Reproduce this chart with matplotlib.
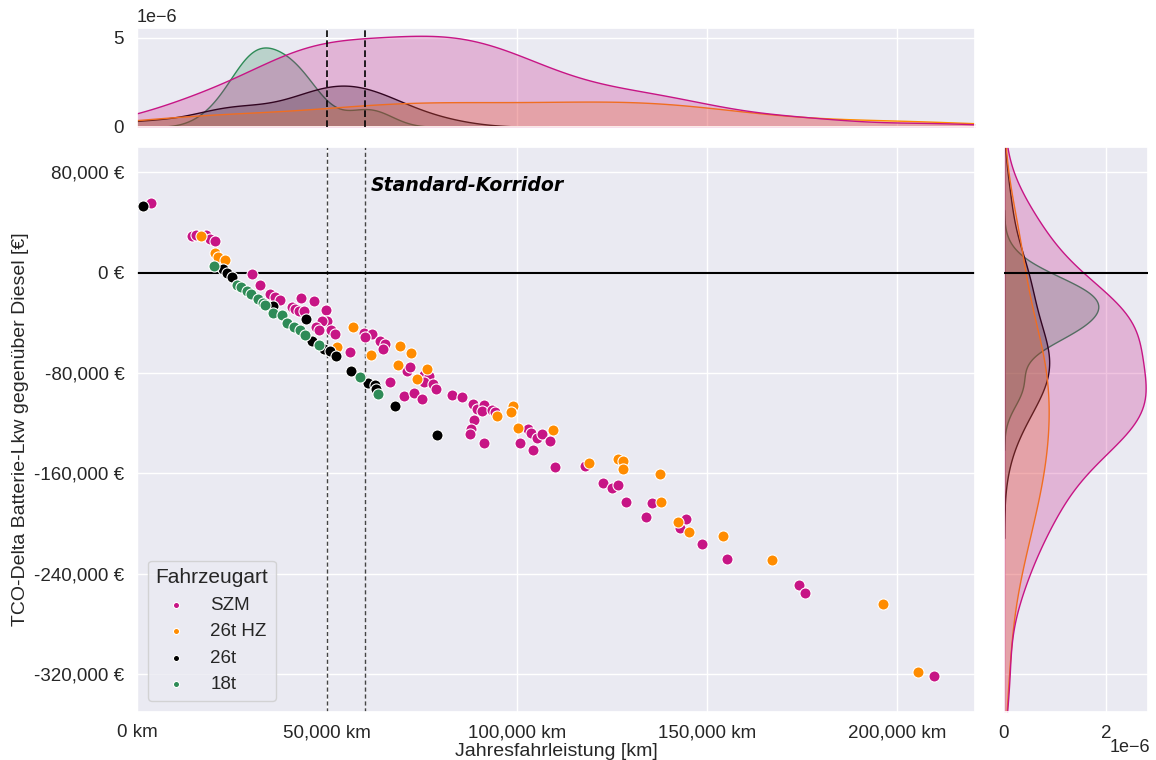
import numpy as np
import pandas as pd
import matplotlib
matplotlib.use("Agg")
import matplotlib.pyplot as plt
import seaborn as sns
from matplotlib.ticker import FuncFormatter

# ---------------- data ----------------
categories = ["SZM", "26t HZ", "26t", "18t"]
colors = ["#C71585", "#FF8C00", "#000000", "#2E8B57"]

szm_km = [3600, 14600, 15500, 18100, 19200, 20400, 30200, 32300, 34900, 36400, 37700,
          43100, 46500, 40800, 41600, 42500, 44000, 49800, 50000, 48700, 47000, 47800,
          51000, 52200, 56100, 59800, 61800, 60100, 64000, 65200, 64700, 71100, 71900,
          75600, 76900, 75600, 78000, 78800, 66500, 70200, 72800, 75000, 82900, 85600,
          88500, 89500, 91400, 90800, 93300, 94100, 88800, 87900, 87600, 91400, 102800,
          103700, 105300, 106500, 100900, 104300, 108800, 109900, 117800, 122700, 125100,
          126700, 128600, 135600, 133900, 142900, 144500, 148600, 155200, 174200, 175700,
          209600]
szm_tco = [55100, 29400, 30000, 30000, 26800, 25500, -1000, -10300, -16900, -19600, -21700,
           -20100, -22300, -27600, -29400, -30600, -30800, -29700, -38700, -38700, -43300,
           -46100, -45700, -49300, -63600, -48100, -49300, -51500, -54900, -57000, -61200,
           -78300, -75500, -81500, -82700, -87500, -89100, -93000, -87200, -98200, -96200,
           -100600, -97800, -99200, -104400, -108400, -105800, -110500, -109300, -111300,
           -117700, -124300, -128800, -135400, -124300, -127500, -131600, -128300, -135700,
           -141000, -134000, -155200, -153700, -168000, -172000, -169000, -183100, -183500,
           -194800, -203800, -196400, -216100, -228500, -249100, -255000, -321000]

hz_km = [16900, 20400, 21400, 23200, 52600, 56800, 61600, 69200, 72100, 68600, 76300, 73700,
         94800, 99000, 98300, 100200, 109500, 119000, 126500, 127900, 128000, 137600, 137900,
         142400, 145300, 154100, 167100, 196300, 205500]
hz_tco = [28900, 15900, 12200, 10300, -59400, -43200, -65600, -58800, -64000, -73700, -76600,
          -85100, -114000, -106600, -111100, -124100, -125600, -151700, -148900, -149900,
          -156700, -160600, -182700, -198400, -206800, -209900, -229000, -264000, -318100]

t26_km = [1700, 22700, 23600, 25000, 35900, 44500, 46000, 49100, 50900, 52400, 56400, 60700,
          62500, 63000, 67800, 78900]
t26_tco = [53300, 2800, 0, -3400, -26600, -36800, -54600, -60700, -62400, -66800, -78300,
           -88300, -89500, -92500, -106600, -129100]

t18_km = [20300, 26300, 27500, 28900, 30000, 31800, 33100, 33700, 35900, 38100, 39500, 41200,
          42800, 44300, 47800, 58600, 63400]
t18_tco = [5300, -9800, -11700, -14600, -16900, -20700, -23900, -25700, -32400, -34200, -39800,
           -43500, -46100, -49700, -57900, -83300, -96600]

corridor = [50000, 60000]
x_ticks = [0, 50000, 100000, 150000, 200000]
y_ticks = [-320000, -240000, -160000, -80000, 0, 80000]

# ---------------- build frame ----------------
frames = []
for cat, xs, ys in zip(categories, [szm_km, hz_km, t26_km, t18_km],
                       [szm_tco, hz_tco, t26_tco, t18_tco]):
    frames.append(pd.DataFrame({"km": xs, "tco": ys, "Fahrzeugart": cat}))
df = pd.concat(frames, ignore_index=True)
palette = dict(zip(categories, colors))

# ---------------- style ----------------
sns.set_theme(style="darkgrid")
plt.rcParams['font.family'] = ['Liberation Sans', 'DejaVu Sans']

fig = plt.figure(figsize=(11.56, 7.6), dpi=100)
ax = fig.add_axes([0.1185, 0.0632, 0.7249, 0.7434])
axx = fig.add_axes([0.1185, 0.8329, 0.7249, 0.1303], sharex=ax)
axy = fig.add_axes([0.8685, 0.0632, 0.1246, 0.7434], sharey=ax)

# marginal KDEs
sns.kdeplot(data=df, x="km", hue="Fahrzeugart", hue_order=categories, palette=palette,
            fill=True, common_norm=True, ax=axx, legend=False, linewidth=1, bw_adjust=0.85)
sns.kdeplot(data=df, y="tco", hue="Fahrzeugart", hue_order=categories, palette=palette,
            fill=True, common_norm=True, ax=axy, legend=False, linewidth=1)

# scatter
for cat in categories:
    sub = df[df["Fahrzeugart"] == cat]
    ax.scatter(sub["km"], sub["tco"], s=64, color=palette[cat], edgecolor="white",
               linewidth=0.8, label=cat, zorder=3)

# reference lines
for v in corridor:
    ax.axvline(v, color="#444444", ls=(0, (3, 2)), lw=1.0, zorder=2)
    axx.axvline(v, color="black", ls=(0, (4, 2)), lw=1.2, zorder=5)
ax.axhline(0, color="black", lw=1.5, zorder=2)
axy.axhline(0, color="black", lw=1.5, zorder=5)

ax.text(61400, 69000, "Standard-Korridor", fontsize=13.6, fontweight="bold",
        fontstyle="italic", family="DejaVu Sans", color="black", ha="left", va="center")

# axes formatting
ax.set_xlim(0, 220500)
ax.set_ylim(-350000, 100000)
ax.set_xticks(x_ticks)
ax.set_yticks(y_ticks)
ax.xaxis.set_major_formatter(FuncFormatter(lambda v, p: f"{v:,.0f} km"))
ax.yaxis.set_major_formatter(FuncFormatter(lambda v, p: f"{v:,.0f} €"))
ax.tick_params(labelsize=13.5, pad=3)
ax.set_xlabel("Jahresfahrleistung [km]", fontsize=14, labelpad=1)
ax.set_ylabel("TCO-Delta Batterie-Lkw gegenüber Diesel [€]", fontsize=14, labelpad=4)

sci = FuncFormatter(lambda v, p: f"{v * 1e6:g}")

axx.set_xlabel("")
axx.set_ylabel("")
axx.set_ylim(0, 5.56e-6)
axx.tick_params(labelbottom=False, labelsize=13.5)
axx.set_yticks([0, 5e-6])
axx.yaxis.set_major_formatter(sci)
fig.text(137 / 1156, 1 - 18 / 760, "1e\u22126", fontsize=13, ha="left", va="center",
         color="#262626")

axy.set_xlabel("")
axy.set_ylabel("")
axy.set_xlim(0, 2.82e-6)
axy.tick_params(labelleft=False, labelsize=13.5)
axy.set_xticks([0, 2e-6])
axy.xaxis.set_major_formatter(sci)
fig.text(1150 / 1156, 1 - 748 / 760, "1e\u22126", fontsize=13, ha="right", va="center",
         color="#262626")

leg = ax.legend(title="Fahrzeugart", loc="lower left", fontsize=13.5, title_fontsize=15,
                markerscale=0.55, frameon=True, borderaxespad=0.6)

fig.savefig("out.png", dpi=100)
